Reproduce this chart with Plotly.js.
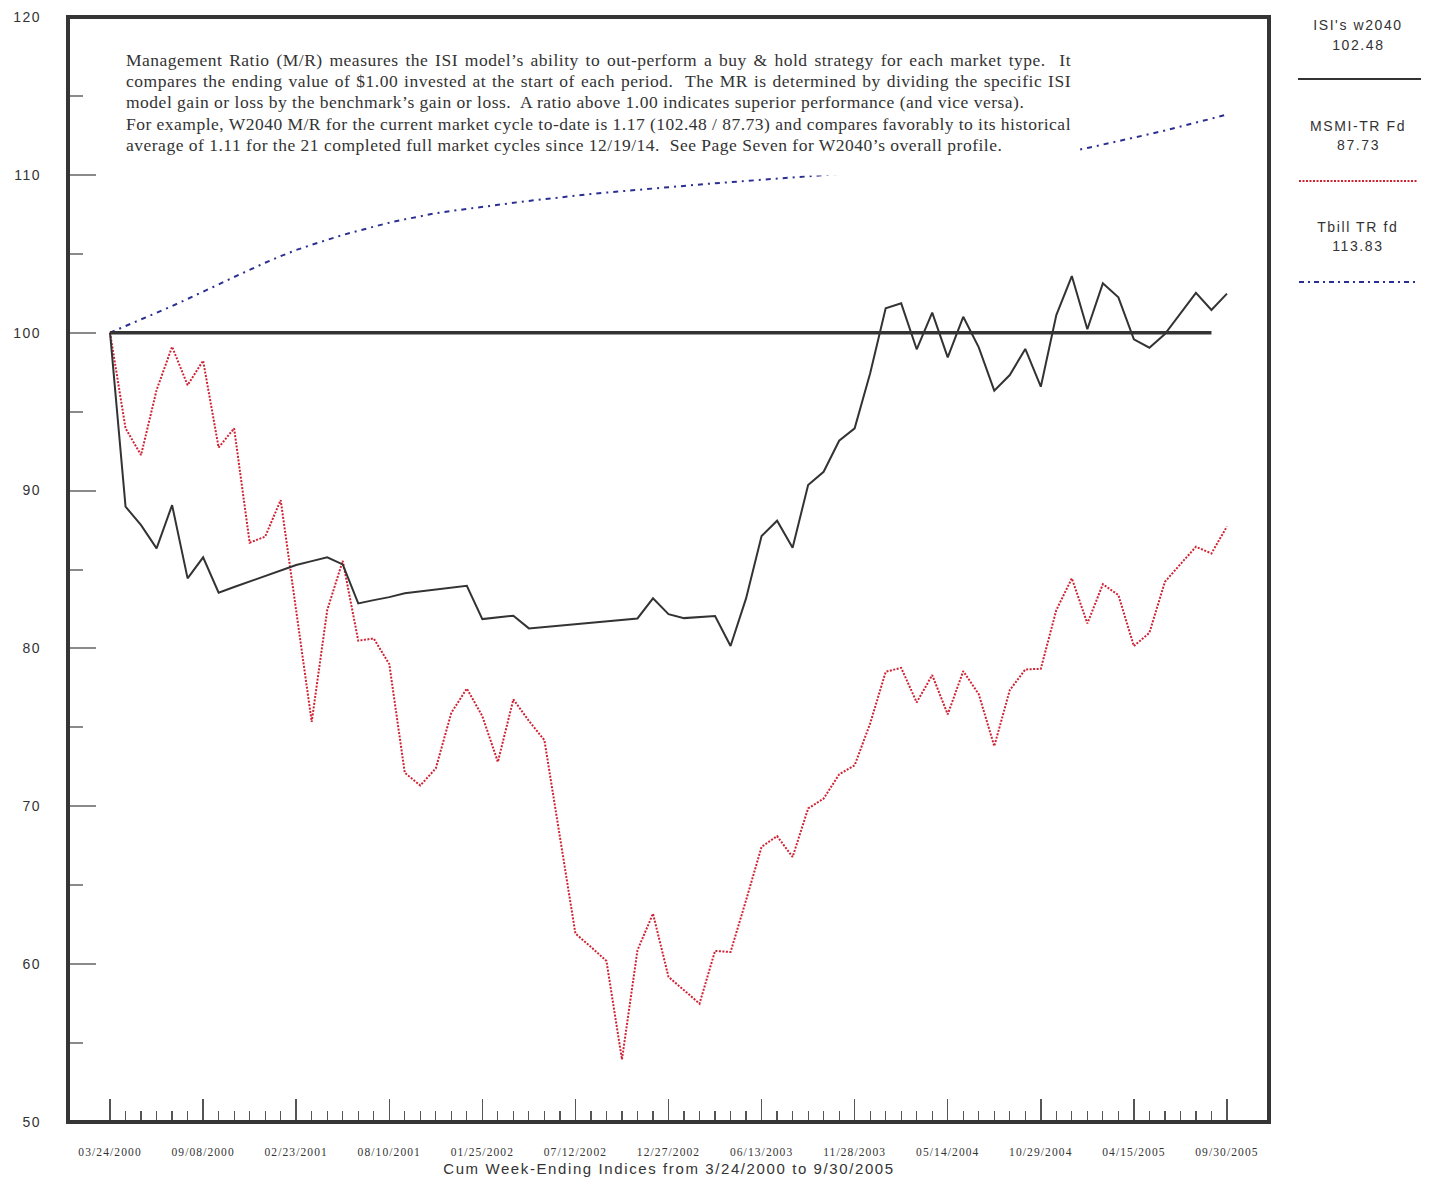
<!DOCTYPE html>
<html>
<head>
<meta charset="utf-8">
<script src="https://cdn.plot.ly/plotly-3.0.1.min.js"></script>
<style>
  html, body { margin: 0; padding: 0; background: #fff; }
  #chart { width: 1429px; height: 1177px; }
  .ytick text { letter-spacing: 1.5px; }
  .xtick text { letter-spacing: 1.1px; }
</style>
</head>
<body>
<div id="chart"></div>
<script>
// ---- Data (cumulative index values, every 4 weeks from 03/24/2000 to 09/30/2005) ----
const startDate = '03/24/2000';
const endDate = '09/30/2005';

const tickLabels = ['03/24/2000','09/08/2000','02/23/2001','08/10/2001','01/25/2002','07/12/2002',
  '12/27/2002','06/13/2003','11/28/2003','05/14/2004','10/29/2004','04/15/2005','09/30/2005'];
const tickPositions = [0,6,12,18,24,30,36,42,48,54,60,66,72];

const w2040 = [100.00, 88.98, 87.81, 86.34, 89.08, 84.44, 85.77, 83.53, 83.89, 84.24,
  84.62, 84.96, 85.28, 85.53, 85.77, 85.32, 82.85, 83.06, 83.25, 83.49,
  83.62, 83.75, 83.87, 83.97, 81.86, 81.96, 82.07, 81.27, 81.36, 81.45,
  81.54, 81.63, 81.72, 81.81, 81.90, 83.17, 82.17, 81.92, 81.98, 82.05,
  80.15, 83.17, 87.12, 88.09, 86.38, 90.35, 91.19, 93.16, 93.94, 97.43,
  101.55, 101.86, 98.95, 101.27, 98.44, 101.01, 99.07, 96.33, 97.32, 98.97,
  96.58, 101.12, 103.59, 100.22, 103.13, 102.24, 99.58, 99.05, 99.92, 101.23,
  102.53, 101.44, 102.48];

const msmi = [100.00, 93.94, 92.25, 96.37, 99.11, 96.68, 98.23, 92.73, 93.94, 86.70,
  87.08, 89.40, 82.39, 75.35, 82.43, 85.55, 80.49, 80.63, 79.01, 72.12,
  71.32, 72.40, 75.92, 77.46, 75.71, 72.81, 76.77, 75.41, 74.19, 68.06,
  61.94, 61.09, 60.20, 53.96, 60.88, 63.20, 59.19, 58.35, 57.50, 60.84,
  60.77, 64.05, 67.43, 68.11, 66.79, 69.86, 70.49, 72.02, 72.60, 75.25,
  78.52, 78.77, 76.58, 78.31, 75.82, 78.56, 77.10, 73.81, 77.36, 78.67,
  78.71, 82.43, 84.44, 81.58, 84.07, 83.38, 80.15, 80.99, 84.22, 85.34,
  86.44, 86.02, 87.73];

const tbill = [100.00, 100.42, 100.83, 101.23, 101.69, 102.14, 102.58, 103.06, 103.53, 104.00,
  104.43, 104.85, 105.24, 105.57, 105.89, 106.19, 106.46, 106.72, 106.97, 107.18,
  107.38, 107.57, 107.71, 107.85, 107.98, 108.10, 108.23, 108.35, 108.47, 108.59,
  108.70, 108.79, 108.88, 108.97, 109.06, 109.15, 109.24, 109.32, 109.40, 109.47,
  109.54, 109.61, 109.68, 109.76, 109.84, 109.92, 110.00, 110.07, 110.13, 110.20,
  110.27, 110.35, 110.42, 110.50, 110.59, 110.68, 110.77, 110.87, 110.98, 111.10,
  111.22, 111.35, 111.50, 111.70, 111.91, 112.13, 112.35, 112.58, 112.81, 113.05,
  113.30, 113.56, 113.83];

const seriesNames = ["ISI's w2040", 'MSMI-TR Fd', 'Tbill TR fd'];
const seriesLast = ['102.48', '87.73', '113.83'];
const baselineValue = 100;
const baselineEndIndex = 71;

const periodIndex = w2040.map((_, i) => i);

const note = [
  'Management Ratio (M/R) measures the ISI model\u2019s ability to out-perform a buy &amp; hold strategy for each market type.\u00a0 It',
  'compares the ending value of $1.00 invested at the start of each period.\u00a0 The MR is determined by dividing the specific ISI',
  'model gain or loss by the benchmark\u2019s gain or loss.\u00a0 A ratio above 1.00 indicates superior performance (and vice versa).',
  'For example, W2040 M/R for the current market cycle to-date is 1.17 (102.48 / 87.73) and compares favorably to its historical',
  'average of 1.11 for the 21 completed full market cycles since 12/19/14.\u00a0 See Page Seven for W2040\u2019s overall profile.'
];
const noteJustified = [true, true, false, true, false];

// ---- Styles ----
const cBlack = '#333333', cRed = '#cf2233', cBlue = '#2b2f8f';
const redDash = '2px,1.5px';
const blueDash = '5px,5px,2px,5px';

const traces = [
  { x: periodIndex, y: tbill, type: 'scatter', mode: 'lines', name: seriesNames[2],
    line: { color: cBlue, width: 2, dash: blueDash } },
  { x: [periodIndex[0], periodIndex[baselineEndIndex]], y: [baselineValue, baselineValue],
    type: 'scatter', mode: 'lines', name: 'base', line: { color: cBlack, width: 3.5 } },
  { x: periodIndex, y: msmi, type: 'scatter', mode: 'lines', name: seriesNames[1],
    line: { color: cRed, width: 2, dash: redDash } },
  { x: periodIndex, y: w2040, type: 'scatter', mode: 'lines', name: seriesNames[0],
    line: { color: cBlack, width: 2 } }
];

// paper helpers (plot area: 68..1269 x, 17..1122 y)
const L = 68, R = 1269, T = 17, B = 1122;
const px = v => (v - L) / (R - L);
const py = v => (B - v) / (B - T);

const noteLeft = 126, noteRight = 1071, noteTop = 47.5, noteStep = 21.4;

const legendY = [[25, 45, 79], [126, 145, 181], [227, 246, 282]];
const legendX0 = [1298, 1299, 1299], legendX1 = [1421, 1418, 1415];
const legendColors = [cBlack, cRed, cBlue];
const legendDash = ['solid', '2px,1.5px', '5px,4px,2px,4px'];

const annotations = note.map((line, k) => ({
  xref: 'paper', yref: 'paper', x: px(noteLeft - 2), y: py(noteTop + k * noteStep),
  xanchor: 'left', yanchor: 'top', align: 'left', showarrow: false, text: line,
  font: { family: 'Liberation Serif, Times New Roman, serif', size: 17.5, color: '#333' }
}));
annotations.push({ xref: 'paper', yref: 'paper', x: 0.5, y: py(1168), xanchor: 'center', yanchor: 'middle',
  showarrow: false, text: 'Cum Week-Ending Indices from ' + startDate.replace(/^0/, '') + ' to ' + endDate.replace(/^0/, ''),
  font: { family: 'Liberation Sans, Arial, sans-serif', size: 15, color: '#333' } });

const shapes = [
  // white panel behind the note
  { type: 'rect', xref: 'paper', yref: 'paper', x0: px(120), x1: px(1077), y0: py(175.5), y1: py(40),
    fillcolor: '#ffffff', line: { width: 0 }, layer: 'above' },
  // frame
  { type: 'rect', xref: 'paper', yref: 'paper', x0: 0, x1: 1, y0: 0, y1: 1,
    line: { color: '#353535', width: 4 }, fillcolor: 'rgba(0,0,0,0)', layer: 'above' }
];
for (let i = 0; i < 3; i++) {
  annotations.push({ xref: 'paper', yref: 'paper', x: px(1358), y: py(legendY[i][0]), xanchor: 'center', yanchor: 'middle',
    showarrow: false, text: seriesNames[i], font: { family: 'Liberation Sans, Arial, sans-serif', size: 14, color: '#333' } });
  annotations.push({ xref: 'paper', yref: 'paper', x: px(1358), y: py(legendY[i][1]), xanchor: 'center', yanchor: 'middle',
    showarrow: false, text: seriesLast[i], font: { family: 'Liberation Sans, Arial, sans-serif', size: 14, color: '#333' } });
  shapes.push({ type: 'line', xref: 'paper', yref: 'paper', x0: px(legendX0[i]), x1: px(legendX1[i]),
    y0: py(legendY[i][2]), y1: py(legendY[i][2]), line: { color: legendColors[i], width: 2, dash: legendDash[i] } });
}

const layout = {
  width: 1429, height: 1177,
  margin: { l: L, r: 1429 - R, t: T, b: 1177 - B },
  paper_bgcolor: '#ffffff', plot_bgcolor: '#ffffff',
  showlegend: false,
  xaxis: {
    range: [-2.71, 74.71], showgrid: false, zeroline: false, showline: false,
    tickmode: 'array', tickvals: tickPositions, ticktext: tickLabels,
    ticks: 'inside', ticklen: 23, tickwidth: 1.5, tickcolor: '#555',
    ticklabelstandoff: 21,
    tickfont: { family: 'Liberation Serif, Times New Roman, serif', size: 11.5, color: '#333' },
    minor: { tickmode: 'array', tickvals: periodIndex, ticks: 'inside', ticklen: 11, tickwidth: 1.2, tickcolor: '#555', showgrid: false }
  },
  yaxis: {
    range: [50, 120], showgrid: false, zeroline: false, showline: false,
    tick0: 50, dtick: 10, ticks: 'inside', ticklen: 28, tickwidth: 2, tickcolor: '#8a8a8a',
    ticklabelstandoff: 26,
    tickfont: { family: 'Liberation Sans, Arial, sans-serif', size: 14, color: '#333' },
    minor: { tick0: 50, dtick: 5, ticks: 'inside', ticklen: 15, tickwidth: 2, tickcolor: '#8a8a8a', showgrid: false }
  },
  annotations: annotations,
  shapes: shapes
};

Plotly.newPlot('chart', traces, layout, { displayModeBar: false, staticPlot: true }).then(() => {
  document.querySelectorAll('g.annotation').forEach(g => {
    const idx = parseInt(g.getAttribute('data-index'), 10);
    const t = g.querySelector('text');
    if (!t) return;
    if (idx < note.length) {
      t.style.letterSpacing = '0.5px';
      if (noteJustified[idx]) {
        const w = t.getBBox().width;
        const nSpaces = (note[idx].match(/[ \u00a0]/g) || []).length;
        const extra = (noteRight - noteLeft) - w;
        if (nSpaces > 0) t.style.wordSpacing = (extra / nSpaces) + 'px';
      }
    } else {
      t.style.letterSpacing = '1.6px';
    }
  });
});
</script>
</body>
</html>
